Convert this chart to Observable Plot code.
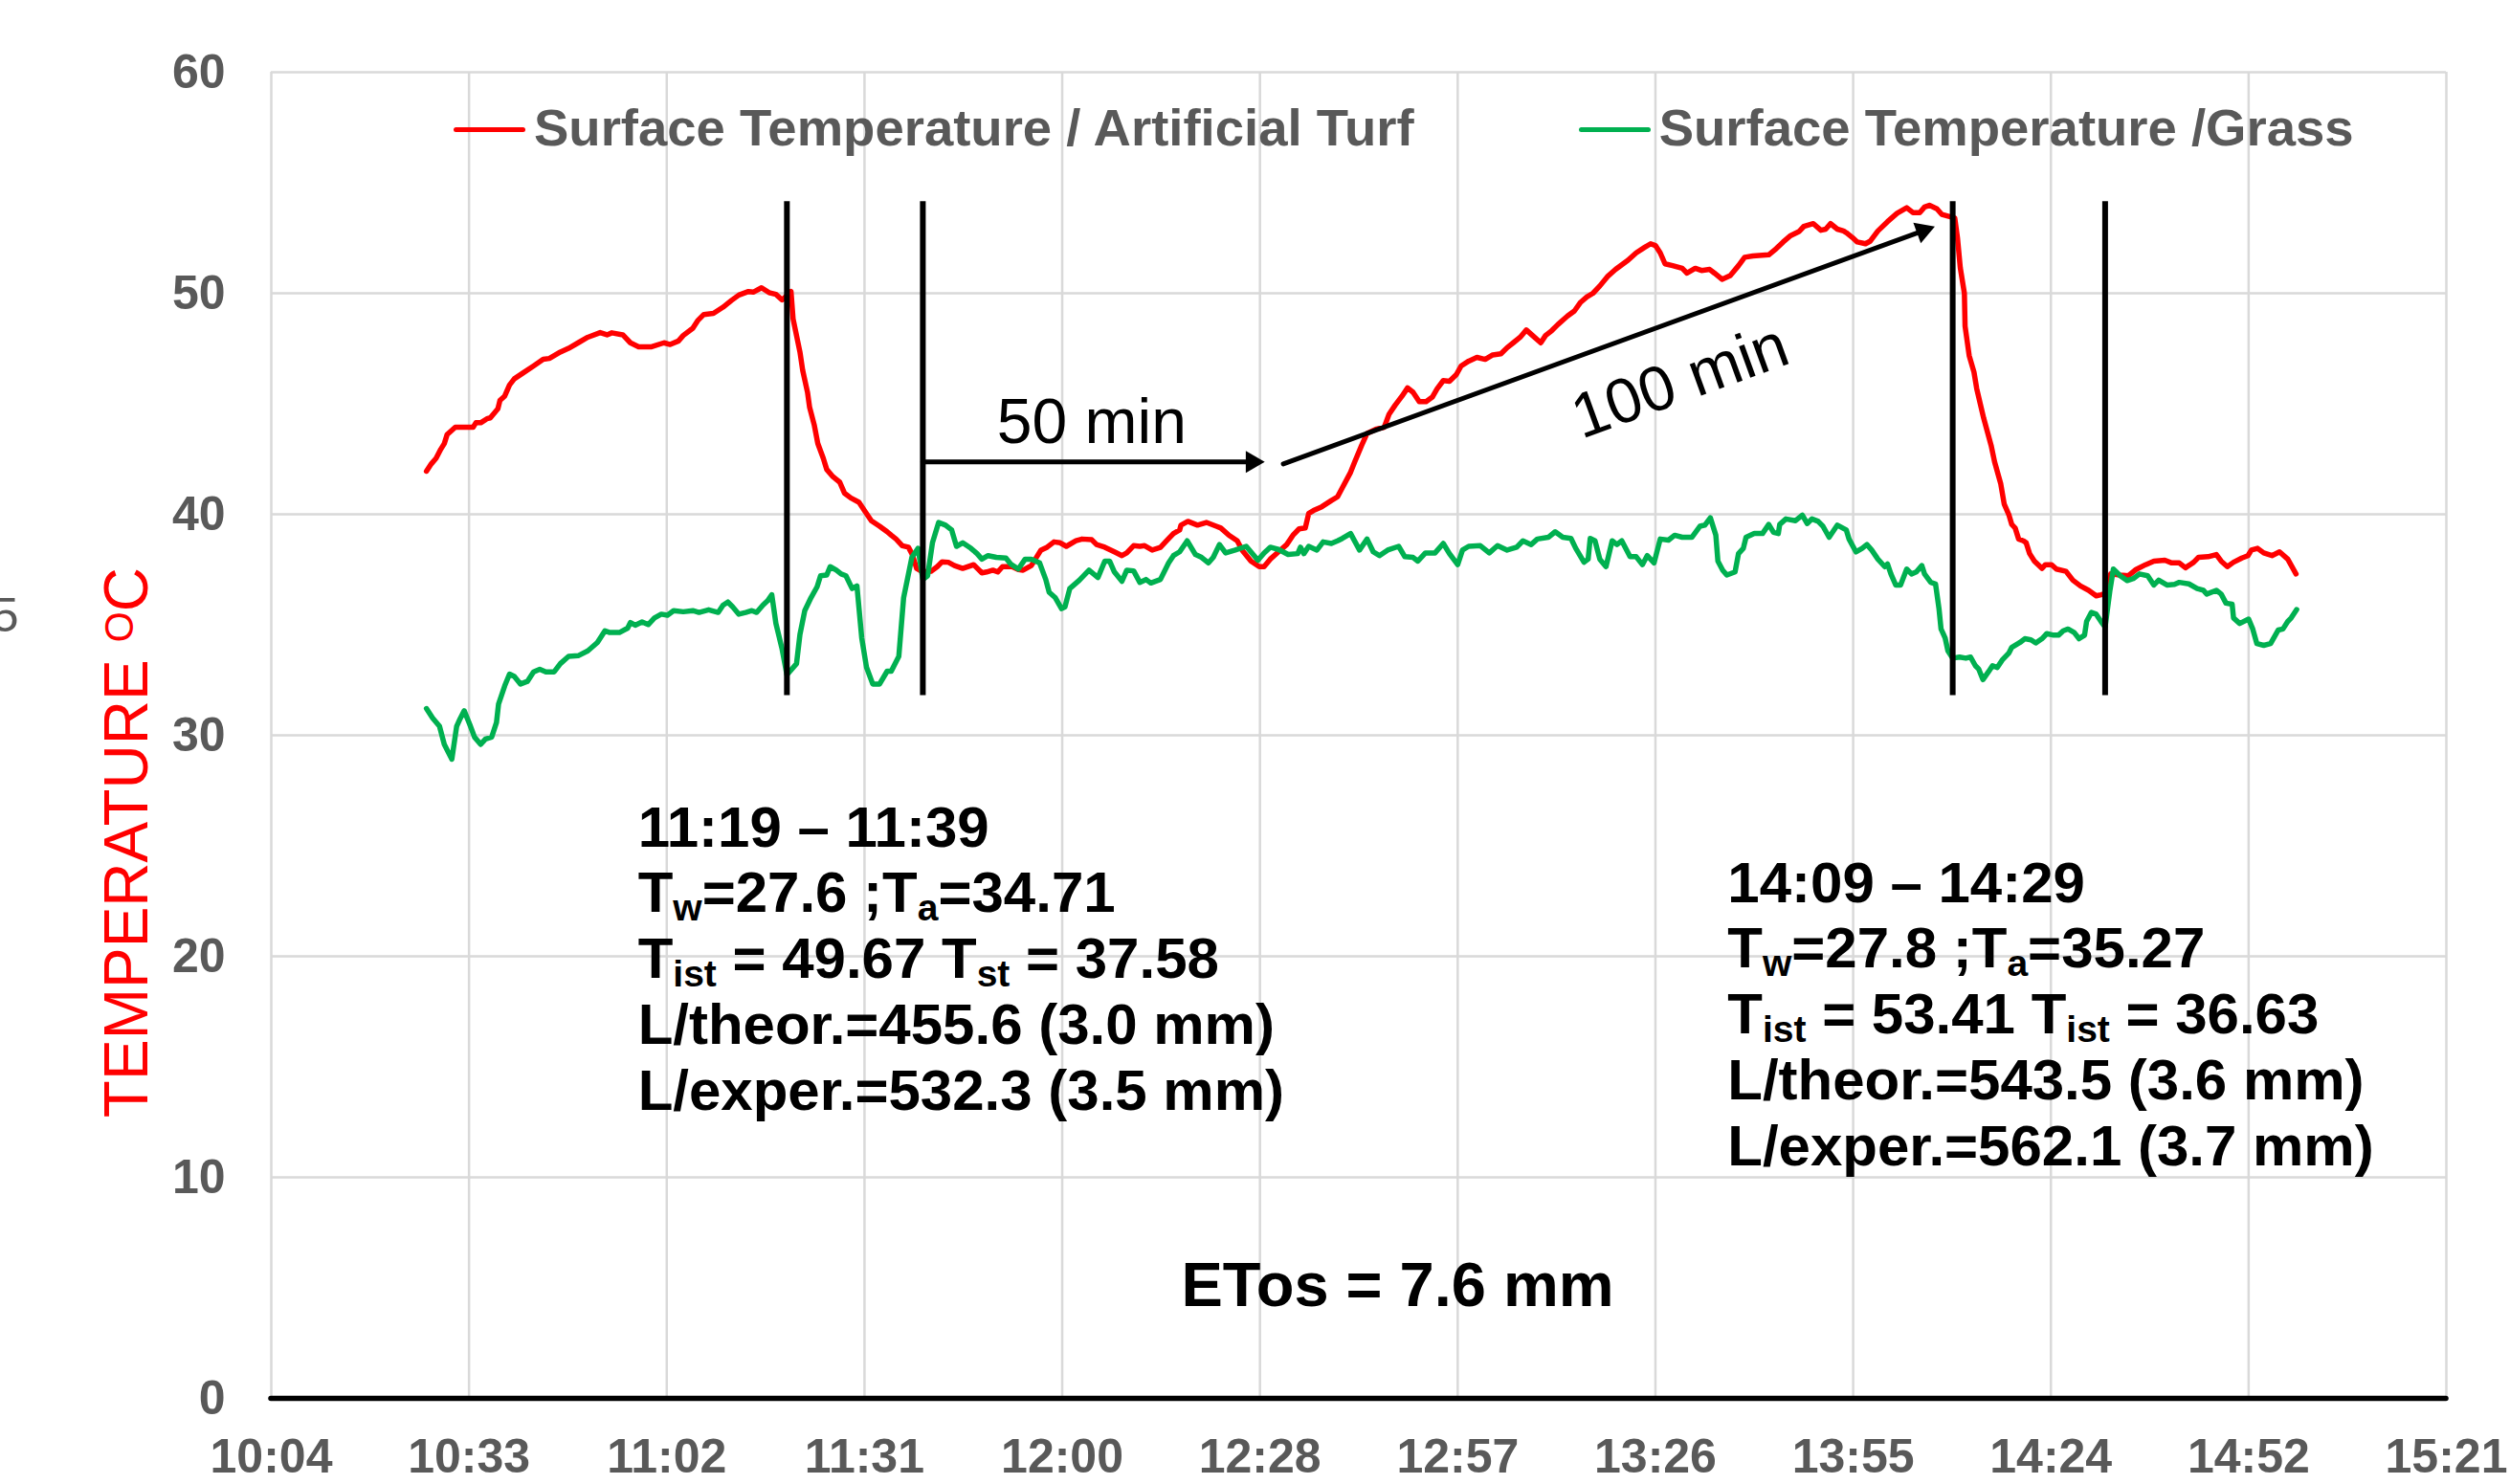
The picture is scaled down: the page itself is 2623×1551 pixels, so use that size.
<!DOCTYPE html>
<html>
<head>
<meta charset="utf-8">
<script src="https://cdn.jsdelivr.net/npm/d3@7"></script>
<script src="https://cdn.jsdelivr.net/npm/@observablehq/plot@0.6"></script>
<style>
  html, body { margin: 0; padding: 0; background: #fff; overflow: hidden; }
  #wrap { position: relative; width: 2623px; height: 1551px; overflow: hidden; background: #fff; }
  #wrap svg { display: block; }
  .legend { position: absolute; top: 107px; left: 474px; display: flex; gap: 172px;
            font-family: "Liberation Sans", Arial, Helvetica, sans-serif; font-weight: bold;
            font-size: 54.5px; color: #595959; line-height: 54px; white-space: nowrap; }
  .legend .item { display: flex; align-items: center; gap: 9px; }
  .legend .sw { display: inline-block; width: 75px; height: 5px; border-radius: 3px; margin-top: 2px; }
</style>
</head>
<body>
<div id="wrap"></div>
<script>
// ---------- axis ticks ----------
const xTickValues = [604.8, 633.6, 662.4, 691.2, 720, 748.8, 777.6, 806.4, 835.2, 864, 892.8, 921.6]; // minutes after midnight
const xTickLabels = ["10:04", "10:33", "11:02", "11:31", "12:00", "12:28", "12:57", "13:26", "13:55", "14:24", "14:52", "15:21"];
const yTickValues = [0, 10, 20, 30, 40, 50, 60];

// ---------- series: Surface Temperature / Artificial Turf ----------
const turfMinutes = [627.4,628.1,628.8,629.5,630.0,630.4,631.6,634.2,634.6,635.3,636.2,636.7,637.8,638.1,638.8,639.5,640.2,641.4,643.0,644.4,645.3,646.9,648.1,649.5,650.9,652.7,653.7,654.4,656.0,657.1,658.3,660.2,662.0,662.9,664.1,664.8,666.2,666.9,667.8,669.2,670.6,671.8,672.9,674.3,675.0,676.2,677.3,678.3,679.2,680.0,680.5,680.8,681.8,682.2,682.9,683.2,683.9,684.4,685.2,685.7,686.6,687.6,688.3,689.2,690.4,691.3,692.2,693.4,694.5,
695.1,695.8,696.7,697.6,698.1,698.8,699.7,700.9,701.8,702.5,703.4,704.3,705.5,707.1,708.3,709.0,709.9,710.6,711.3,712.7,713.6,714.3,715.5,716.9,717.8,718.8,719.7,720.6,722.0,722.9,724.3,725.0,726.2,727.6,728.7,729.4,730.4,731.3,732.0,733.1,734.3,735.2,736.2,737.1,737.3,738.3,739.7,741.0,743.1,744.3,745.5,746.2,747.5,748.7,749.4,750.3,751.3,752.7,753.6,754.5,755.4,755.9,756.6,757.8,759.2,760.1,760.8,762.0,762.6,763.6,
764.4,765.8,766.9,767.6,768.5,769.5,770.3,771.1,772.0,773.0,773.9,774.6,775.5,776.4,777.4,778.1,779.2,780.4,781.6,782.7,783.9,784.8,785.7,786.7,787.6,788.5,789.7,790.4,791.3,792.2,793.6,794.6,795.5,796.4,797.3,798.3,799.4,800.6,801.5,802.4,803.6,804.8,805.7,806.4,807.1,807.8,808.9,810.3,811.0,812.2,813.1,814.3,815.0,816.1,817.3,818.5,819.4,820.6,822.9,824.0,825.0,826.1,827.3,828.0,829.4,830.5,831.2,831.9,832.9,833.8,
834.2,835.1,835.8,837.0,837.7,838.8,840.2,841.6,843.0,843.9,844.9,845.6,846.3,847.4,848.1,849.0,850.0,850.4,850.8,851.4,851.5,852.1,852.8,853.2,854.2,855.3,855.8,856.7,857.2,857.9,858.3,858.8,859.3,860.0,860.4,860.9,861.6,862.7,863.2,864.1,864.8,866.2,867.2,868.3,869.5,870.6,871.3,872.0,872.7,874.1,875.3,876.4,877.8,879.0,880.6,881.6,882.7,883.6,884.8,885.5,886.9,888.1,888.8,889.7,890.6,891.8,892.7,893.2,894.1,895.0,896.2,897.3,898.5,899.7];
const turfTemp = [41.95,42.28,42.53,42.95,43.20,43.60,43.94,43.94,44.14,44.14,44.32,44.36,44.77,45.15,45.35,45.85,46.13,46.38,46.71,47.01,47.05,47.34,47.51,47.76,48.01,48.22,48.12,48.21,48.12,47.76,47.58,47.58,47.76,47.68,47.84,48.09,48.42,48.76,49.04,49.09,49.37,49.67,49.92,50.08,50.05,50.25,50.03,49.95,49.70,49.92,50.08,48.84,47.34,46.51,45.52,44.85,44.02,43.20,42.53,42.03,41.70,41.45,40.95,40.74,40.54,40.12,39.71,39.46,39.21,
39.05,38.88,38.58,38.51,38.22,37.55,37.39,37.42,37.63,37.85,37.83,37.68,37.55,37.72,37.35,37.39,37.47,37.39,37.63,37.63,37.50,37.47,37.68,38.38,38.51,38.75,38.71,38.55,38.80,38.88,38.85,38.63,38.51,38.30,38.13,38.25,38.58,38.55,38.58,38.38,38.50,38.80,39.13,39.29,39.51,39.68,39.51,39.63,39.38,39.05,38.80,38.38,37.88,37.63,37.63,37.97,38.25,38.63,39.05,39.34,39.38,40.04,40.17,40.34,40.62,40.79,41.20,41.90,42.37,43.11,
43.66,43.86,43.94,44.52,44.94,45.35,45.72,45.52,45.10,45.10,45.30,45.68,46.05,46.02,46.32,46.71,46.93,47.10,47.01,47.21,47.26,47.54,47.76,48.01,48.34,48.09,47.76,48.09,48.31,48.59,48.97,49.20,49.59,49.83,50.00,50.33,50.75,51.08,51.29,51.49,51.83,52.07,52.24,52.16,51.83,51.33,51.25,51.13,50.91,51.13,51.03,51.08,50.91,50.63,50.80,51.25,51.63,51.69,51.74,52.02,52.32,52.61,52.79,53.02,53.15,52.85,52.90,53.15,52.90,52.82,
52.74,52.52,52.32,52.24,52.36,52.82,53.24,53.62,53.87,53.65,53.65,53.90,53.98,53.82,53.57,53.49,53.40,52.49,51.16,50.00,48.51,47.18,46.43,45.68,44.36,43.11,42.37,41.37,40.46,39.96,39.54,39.38,38.88,38.80,38.71,38.22,37.88,37.55,37.72,37.72,37.52,37.42,37.02,36.76,36.56,36.31,36.36,36.42,37.30,37.25,37.22,37.50,37.72,37.88,37.92,37.80,37.80,37.58,37.83,38.05,38.08,38.18,37.88,37.63,37.83,38.02,38.13,38.38,38.46,38.25,38.13,38.30,37.97,37.30];

// ---------- series: Surface Temperature / Grass ----------
const grassMinutes = [627.4,628.3,629.3,630.0,631.1,631.8,632.3,632.9,633.7,634.4,635.3,636.0,636.9,637.6,637.9,638.8,639.5,640.2,641.1,642.1,643.0,643.9,644.8,646.0,646.9,648.1,649.5,650.9,652.3,653.4,654.1,655.5,656.7,657.1,657.8,658.8,659.7,660.6,661.6,662.5,663.4,664.8,666.2,667.1,668.5,669.9,670.6,671.3,672.0,672.9,673.9,674.8,675.5,676.4,677.1,677.7,678.3,679.2,679.9,680.6,681.3,681.8,682.5,683.4,684.3,684.8,685.7,686.2,687.1,687.8,688.5,689.4,690.1,690.8,691.5,692.4,693.4,694.5,
695.1,696.2,696.9,698.1,699.0,699.7,700.4,701.1,702.0,703.0,703.9,704.6,705.5,706.7,707.6,708.3,709.2,710.4,711.8,712.5,713.6,714.6,715.5,716.7,717.6,718.1,719.0,719.9,720.4,721.1,722.5,723.9,725.2,726.2,726.9,727.6,728.7,729.4,730.4,731.3,732.2,732.9,734.3,735.5,736.2,737.1,738.2,739.4,740.3,741.3,742.0,742.9,743.8,745.2,746.8,747.8,748.5,749.4,750.3,751.5,752.9,754.3,754.7,755.2,755.9,757.1,758.0,759.2,760.1,760.8,762.0,763.3,
764.4,765.3,766.2,767.4,769.0,769.9,771.1,771.8,772.9,774.3,775.5,776.4,777.6,778.3,779.2,780.9,782.2,783.4,784.8,786.2,787.1,788.3,789.2,790.8,791.8,792.9,794.1,794.8,796.0,796.6,796.9,797.6,798.3,799.2,800.1,800.8,801.5,802.7,803.6,804.5,805.2,806.2,807.1,808.3,809.2,810.3,811.7,812.9,813.6,814.4,815.2,815.5,816.2,816.8,818.0,818.5,819.2,819.6,820.8,822.0,822.9,823.6,824.3,824.5,825.4,826.8,827.8,828.5,829.2,830.1,830.8,831.7,832.9,
834.2,834.6,835.6,836.5,837.2,837.9,838.8,839.8,840.2,840.7,841.4,842.1,843.0,843.7,844.4,845.2,845.6,846.5,847.2,847.7,848.0,848.6,849.0,849.7,850.7,851.6,852.3,853.0,853.5,854.1,854.9,855.5,856.2,856.9,857.9,858.3,859.5,860.2,861.1,861.8,862.7,863.4,864.4,865.1,865.8,866.5,867.4,868.1,868.9,869.2,869.9,870.6,871.3,871.9,872.6,873.1,874.1,875.1,876.0,876.9,878.1,879.0,879.7,880.9,882.0,882.7,884.1,885.3,886.2,886.7,888.1,888.8,889.5,890.4,890.6,891.5,892.8,893.4,894.0,895.0,896.0,897.1,897.8,898.5,899.0,899.8];
const grassTemp = [31.21,30.78,30.41,29.59,28.92,30.41,30.75,31.11,30.50,29.92,29.59,29.83,29.92,30.58,31.41,32.24,32.77,32.66,32.32,32.44,32.87,32.99,32.87,32.87,33.24,33.57,33.60,33.82,34.20,34.73,34.65,34.65,34.85,35.10,34.98,35.13,35.01,35.31,35.48,35.43,35.64,35.59,35.64,35.56,35.68,35.56,35.89,36.03,35.81,35.48,35.56,35.64,35.56,35.89,36.09,36.36,35.06,33.90,32.74,32.99,33.24,34.56,35.64,36.22,36.72,37.22,37.25,37.63,37.47,37.30,37.22,36.64,36.76,34.40,33.07,32.32,32.32,32.90,
32.90,33.57,36.22,38.05,38.46,37.05,37.22,38.71,39.63,39.51,39.29,38.55,38.71,38.46,38.22,37.97,38.13,38.05,38.02,37.75,37.52,37.97,37.97,37.80,37.05,36.47,36.22,35.73,35.81,36.64,37.02,37.47,37.14,37.88,37.88,37.39,36.97,37.47,37.44,36.92,37.05,36.89,37.05,37.80,38.13,38.30,38.80,38.18,38.05,37.80,38.05,38.63,38.25,38.38,38.55,38.18,37.92,38.25,38.51,38.41,38.18,38.22,38.51,38.22,38.55,38.38,38.75,38.68,38.80,38.91,39.13,38.38,
38.88,38.30,38.13,38.38,38.55,38.08,38.05,37.88,38.25,38.25,38.68,38.22,37.72,38.38,38.55,38.58,38.25,38.58,38.38,38.51,38.80,38.63,38.88,38.96,39.21,38.96,38.91,38.46,37.83,37.97,38.91,38.80,37.97,37.63,38.80,38.63,38.80,38.08,38.08,37.72,38.13,37.80,38.88,38.83,39.05,38.96,38.96,39.46,39.51,39.84,39.05,37.88,37.47,37.25,37.39,38.22,38.46,38.96,39.13,39.13,39.54,39.18,39.13,39.54,39.79,39.71,39.96,39.58,39.79,39.68,39.46,38.96,39.51,
39.29,38.88,38.30,38.46,38.63,38.38,37.97,37.63,37.75,37.30,36.80,36.80,37.52,37.30,37.39,37.68,37.30,36.92,36.85,35.73,34.81,34.40,33.82,33.49,33.54,33.49,33.54,33.15,32.99,32.52,32.87,33.15,33.07,33.40,33.73,33.98,34.20,34.37,34.32,34.18,34.37,34.60,34.53,34.53,34.73,34.81,34.65,34.37,34.53,35.15,35.56,35.48,35.15,34.90,36.56,37.52,37.22,37.00,37.09,37.30,37.22,36.80,37.02,36.80,36.83,36.92,36.85,36.64,36.56,36.39,36.56,36.39,35.98,35.93,35.31,35.06,35.26,34.81,34.15,34.07,34.15,34.76,34.81,35.15,35.31,35.69];

// ---------- annotations (data space: minutes, °C) ----------
const markerMinutes = [679.9, 699.7, 849.7, 871.9];   // vertical bars
const markerSpan = [31.8, 54.15];                      // bottom/top of the bars (°C)
const arrowStart = [[699.7, 42.37], [752.2, 42.28]];   // [minute, °C]
const arrowEnd   = [[749.5, 42.37], [847.1, 53.02]];
const arrowLabels = ["50 min", "100 min"];
const arrowLabelAt = [[724.3, 43.24], [810.0, 46.0]];
const leftBlock = ["11:19 – 11:39", "T_{w}=27.6 ;T_{a}=34.71", "T_{ist} = 49.67 T_{st} = 37.58", "L/theor.=455.6 (3.0 mm)", "L/exper.=532.3 (3.5 mm)"];
const rightBlock = ["14:09 – 14:29", "T_{w}=27.8 ;T_{a}=35.27", "T_{ist} = 53.41 T_{ist} = 36.63", "L/theor.=543.5 (3.6 mm)", "L/exper.=562.1 (3.7 mm)"];
const blockAnchors = [[658.2, 13.07], [816.9, 10.56]]; // start minute, last-line baseline (°C)
const etosText = "ETos = 7.6 mm";
const etosAt = [768.85, 4.16];
const seriesNames = ["Surface Temperature / Artificial Turf", "Surface Temperature /Grass"];
const seriesColors = ["#ff0000", "#00b050"];
const yTitle = "TEMPERATURE ^{O}C";

// ---------- build ----------
const W = 2623, H = 1551, ML = 283, MR = 67, MT = 75, MB = 90;
const xDomain = [xTickValues[0], xTickValues[xTickValues.length - 1]];
const yDomain = [0, 60];
const pxPerMin = (W - ML - MR) / (xDomain[1] - xDomain[0]);
const pxPerDeg = (H - MT - MB) / (yDomain[1] - yDomain[0]);

const turf = turfMinutes.map((t, i) => ({t, v: turfTemp[i]}));
const grass = grassMinutes.map((t, i) => ({t, v: grassTemp[i]}));
const arrows = arrowStart.map((s, i) => ({x1: s[0], y1: s[1], x2: arrowEnd[i][0], y2: arrowEnd[i][1]}));
const angleDeg = a => Math.atan2((a.y2 - a.y1) * pxPerDeg, (a.x2 - a.x1) * pxPerMin) * 180 / Math.PI;
const font = "'Liberation Sans', Arial, Helvetica, sans-serif";
const headR = 8.5;
const tipOff = 2 * Math.sqrt(headR * headR * Math.PI / (Math.sqrt(3) * 3));

const headMarks = arrows.map(a => {
  const ang = angleDeg(a);
  const rad = ang * Math.PI / 180;
  return Plot.dot([a], {x: "x2", y: "y2", symbol: "triangle", r: headR, fill: "black", stroke: "none",
    rotate: 90 - ang, dx: -tipOff * Math.cos(rad), dy: tipOff * Math.sin(rad)});
});

const fmtX = d => xTickLabels[xTickValues.findIndex(v => Math.abs(v - d) < 1e-6)];

const chart = Plot.plot({
  width: W, height: H,
  marginLeft: ML, marginRight: MR, marginTop: MT, marginBottom: MB,
  style: {fontFamily: font, background: "#fff", overflow: "hidden"},
  x: {domain: xDomain},
  y: {domain: yDomain},
  marks: [
    Plot.gridX(xTickValues, {stroke: "#d9d9d9", strokeOpacity: 1, strokeWidth: 2.5}),
    Plot.gridY(yTickValues, {stroke: "#d9d9d9", strokeOpacity: 1, strokeWidth: 2.5}),
    Plot.axisX(xTickValues, {tickSize: 0, tickPadding: 42, tickFormat: fmtX, fontSize: 50, fontWeight: "bold", fill: "#595959", label: null}),
    Plot.axisY(yTickValues, {tickSize: 0, tickPadding: 48, fontSize: 50, fontWeight: "bold", fill: "#595959", label: null}),
    Plot.ruleY([0], {stroke: "black", strokeWidth: 5.5, strokeLinecap: "round"}),
    Plot.line(turf, {x: "t", y: "v", stroke: seriesColors[0], strokeWidth: 5.5, strokeLinejoin: "round", strokeLinecap: "round"}),
    Plot.line(grass, {x: "t", y: "v", stroke: seriesColors[1], strokeWidth: 5.5, strokeLinejoin: "round", strokeLinecap: "round"}),
    Plot.ruleX(markerMinutes, {y1: markerSpan[0], y2: markerSpan[1], stroke: "black", strokeWidth: 6}),
    Plot.arrow(arrows, {x1: "x1", y1: "y1", x2: "x2", y2: "y2", headLength: 0, insetEnd: 12, stroke: "black", strokeWidth: 5}),
    ...headMarks,
    Plot.text([0], {x: arrowLabelAt[0][0], y: arrowLabelAt[0][1], text: () => arrowLabels[0], fontSize: 66, fill: "black", textAnchor: "middle", lineAnchor: "bottom"}),
    Plot.text([1], {x: arrowLabelAt[1][0], y: arrowLabelAt[1][1], text: () => arrowLabels[1], fontSize: 66, fill: "black", textAnchor: "middle", lineAnchor: "middle", rotate: -20}),
    Plot.text([leftBlock.join("\n"), rightBlock.join("\n")], {x: (d, i) => blockAnchors[i][0], y: (d, i) => blockAnchors[i][1], text: d => d,
      fontSize: 60, fontWeight: "bold", fill: "black", textAnchor: "start", lineAnchor: "bottom", lineHeight: 1.146}),
    Plot.text([etosText], {x: etosAt[0], y: etosAt[1], text: d => d, fontSize: 65, fontWeight: "bold", fill: "black", textAnchor: "middle", lineAnchor: "bottom"}),
    Plot.text([yTitle], {frameAnchor: "left", y: 25.15, dx: -150, rotate: -90, text: d => d, fontSize: 64, fill: "#ff0000", textAnchor: "middle", lineAnchor: "middle"}),
    Plot.text(["5"], {frameAnchor: "left", y: 34.68, dx: -264, text: d => d, fontSize: 50, fill: "#595959", textAnchor: "end", lineAnchor: "bottom"})
  ]
});

// sub/superscript markup -> tspans
const SVGNS = "http://www.w3.org/2000/svg";
function richify(el) {
  const s = el.textContent;
  if (!/[_^]\{/.test(s)) return;
  el.textContent = "";
  const re = /([_^])\{([^}]*)\}/g;
  let last = 0, m;
  while ((m = re.exec(s))) {
    if (m.index > last) el.appendChild(document.createTextNode(s.slice(last, m.index)));
    const t = document.createElementNS(SVGNS, "tspan");
    t.setAttribute("font-size", "0.65em");
    t.setAttribute("baseline-shift", m[1] === "_" ? "-0.22em" : "0.35em");
    t.textContent = m[2];
    el.appendChild(t);
    last = re.lastIndex;
  }
  if (last < s.length) el.appendChild(document.createTextNode(s.slice(last)));
}
Array.from(chart.querySelectorAll("text, tspan")).forEach(el => { if (el.children.length === 0) richify(el); });

const wrap = document.getElementById("wrap");
wrap.appendChild(chart);

// legend (HTML, overlaid at the top of the plot area)
const legend = document.createElement("div");
legend.className = "legend";
seriesNames.forEach((name, i) => {
  const item = document.createElement("div");
  item.className = "item";
  const sw = document.createElement("span");
  sw.className = "sw";
  sw.style.background = seriesColors[i];
  const label = document.createElement("span");
  label.textContent = name;
  item.appendChild(sw);
  item.appendChild(label);
  legend.appendChild(item);
});
wrap.appendChild(legend);
</script>
</body>
</html>
